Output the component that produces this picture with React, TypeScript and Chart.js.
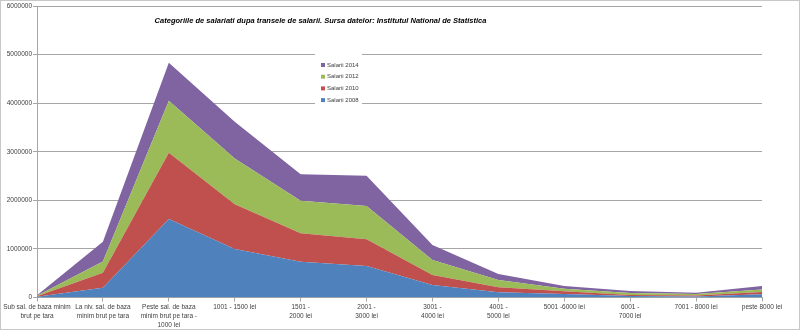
import { useEffect, useRef } from 'react';
import { Chart, registerables } from 'chart.js';

Chart.register(...registerables);

const categories: string[][] = [
  ['Sub sal. de baza minim', 'brut pe tara'],
  ['La niv. sal. de baza', 'minim brut pe tara'],
  ['Peste sal. de baza', 'minim brut pe tara -', '1000 lei'],
  ['1001 - 1500 lei'],
  ['1501 -', '2000 lei'],
  ['2001 -', '3000 lei'],
  ['3001 -', '4000 lei'],
  ['4001 -', '5000 lei'],
  ['5001 -6000 lei'],
  ['6001 -', '7000 lei'],
  ['7001 - 8000 lei'],
  ['peste 8000 lei'],
];

const salarii2008 = [15000, 200000, 1615000, 1000000, 737000, 648000, 257000, 107000, 72000, 31000, 20000, 66000];
const salarii2010 = [10000, 310000, 1365000, 920000, 584000, 550000, 206000, 103000, 56000, 20000, 21000, 47000];
const salarii2012 = [10000, 230000, 1070000, 940000, 670000, 685000, 309000, 150000, 53000, 42000, 31000, 52000];
const salarii2014 = [12000, 410000, 780000, 760000, 545000, 623000, 309000, 124000, 56000, 41000, 27000, 72000];

const seriesNames = ['Salarii 2008', 'Salarii 2010', 'Salarii 2012', 'Salarii 2014'];
const seriesColors = ['#4F81BD', '#C0504D', '#9BBB59', '#8064A2'];
const yTicks = [0, 1000000, 2000000, 3000000, 4000000, 5000000, 6000000];

const titleText = 'Categoriile de salariati dupa transele de salarii. Sursa datelor: Institutul National de Statistica';

const FONT = '"Liberation Sans", Arial, sans-serif';
const GRID = '#a6a6a6';
const TEXT = '#404040';

const framePlugin = {
  id: 'frame',
  beforeDraw(chart: any) {
    const ctx = chart.ctx;
    ctx.save();
    ctx.fillStyle = '#ffffff';
    ctx.fillRect(0, 0, chart.width, chart.height);
    ctx.strokeStyle = '#c8c8c8';
    ctx.lineWidth = 1;
    ctx.strokeRect(0.5, 0.5, chart.width - 1, chart.height - 1);
    ctx.restore();
  },
  afterDraw(chart: any) {
    const ctx = chart.ctx;
    ctx.save();
    // title
    ctx.font = 'italic bold 7.5px ' + FONT;
    ctx.fillStyle = '#000000';
    ctx.textAlign = 'center';
    ctx.textBaseline = 'middle';
    ctx.fillText(titleText, 320.5, 21);
    // legend
    ctx.fillStyle = '#ffffff';
    ctx.fillRect(315, 52, 47, 54);
    ctx.font = '6px ' + FONT;
    ctx.textAlign = 'left';
    const ds = chart.data.datasets;
    for (let i = ds.length - 1, k = 0; i >= 0; i--, k++) {
      const y = 65 + k * 11.7;
      ctx.fillStyle = ds[i].backgroundColor;
      ctx.fillRect(321, y - 2, 4, 4);
      ctx.fillStyle = TEXT;
      ctx.fillText(ds[i].label, 327, y);
    }
    ctx.restore();
  },
};

export default function App() {
  const ref = useRef<HTMLCanvasElement>(null);
  useEffect(() => {
    const series = [salarii2008, salarii2010, salarii2012, salarii2014];
    const chart = new Chart(ref.current!, {
      type: 'line',
      data: {
        labels: categories,
        datasets: series.map((d, i) => ({
          label: seriesNames[i],
          data: d,
          backgroundColor: seriesColors[i],
          borderColor: seriesColors[i],
          borderWidth: 0,
          pointRadius: 0,
          tension: 0,
          fill: i === 0 ? 'origin' : '-1',
        })),
      },
      options: {
        animation: false,
        responsive: true,
        maintainAspectRatio: false,
        layout: { padding: { top: 6, right: 38, left: 0, bottom: 0 } },
        plugins: { legend: { display: false }, title: { display: false }, tooltip: { enabled: false } },
        scales: {
          x: {
            offset: false,
            grid: { drawOnChartArea: false, drawTicks: true, tickLength: 4, color: GRID },
            border: { color: GRID },
            ticks: {
              maxRotation: 0,
              autoSkip: false,
              padding: 1,
              color: TEXT,
              font: { size: 6.5, family: FONT, lineHeight: 1.4 },
            },
            afterFit: (s: any) => {
              s.height = 32.5;
              s.paddingLeft = 0;
              s.paddingRight = 0;
            },
          },
          y: {
            stacked: true,
            min: 0,
            max: 6000000,
            afterBuildTicks: (s: any) => {
              s.ticks = yTicks.map((v) => ({ value: v }));
            },
            grid: { color: GRID, tickLength: 4 },
            border: { color: GRID },
            ticks: {
              padding: 1,
              color: TEXT,
              font: { size: 6.5, family: FONT },
              callback: (v: any) => String(v),
            },
            afterFit: (s: any) => {
              s.width = 37;
              s.paddingTop = 0;
              s.paddingBottom = 0;
            },
          },
        },
      },
      plugins: [framePlugin],
    });
    return () => chart.destroy();
  }, []);
  return (
    <div style={{ position: 'fixed', left: 0, top: 0, width: 800, height: 330 }}>
      <canvas ref={ref} />
    </div>
  );
}
